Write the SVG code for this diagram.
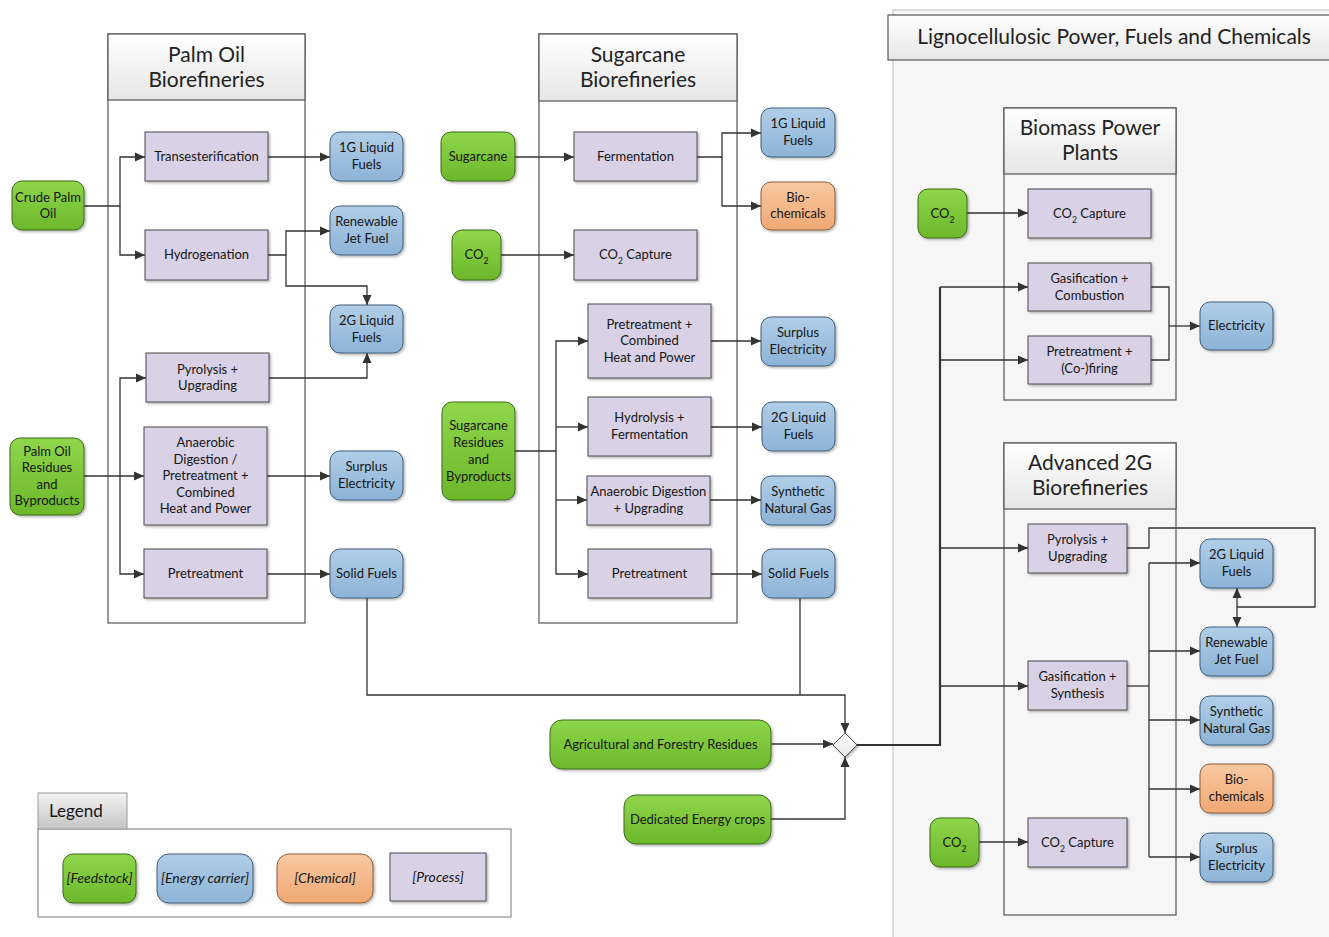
<svg xmlns="http://www.w3.org/2000/svg" width="1329" height="937" viewBox="0 0 1329 937">
<defs>
<linearGradient id="gGreen" x1="0" y1="0" x2="0" y2="1"><stop offset="0" stop-color="#8fd64a"/><stop offset="1" stop-color="#6cb82b"/></linearGradient>
<linearGradient id="gBlue" x1="0" y1="0" x2="0" y2="1"><stop offset="0" stop-color="#b0cee8"/><stop offset="1" stop-color="#8db3d6"/></linearGradient>
<linearGradient id="gOrange" x1="0" y1="0" x2="0" y2="1"><stop offset="0" stop-color="#f9c9a2"/><stop offset="1" stop-color="#f0a873"/></linearGradient>
<linearGradient id="gHdr" x1="0" y1="0" x2="0" y2="1"><stop offset="0" stop-color="#ffffff"/><stop offset="1" stop-color="#e6e6e6"/></linearGradient>
<linearGradient id="gTab" x1="0" y1="0" x2="0" y2="1"><stop offset="0" stop-color="#f4f4f4"/><stop offset="1" stop-color="#c4c4c4"/></linearGradient>
<filter id="sh" x="-10%" y="-10%" width="130%" height="130%"><feDropShadow dx="1.5" dy="1.5" stdDeviation="1.2" flood-color="#000" flood-opacity="0.3"/></filter>
<marker id="arr" viewBox="0 0 10 10" refX="10" refY="5" markerWidth="10" markerHeight="10" markerUnits="userSpaceOnUse" orient="auto-start-reverse"><path d="M0,0.5 L10,5 L0,9.5 z" fill="#333"/></marker>
<style>
.feed{fill:url(#gGreen);stroke:#3e6a1c;stroke-width:1;filter:url(#sh)}
.energy{fill:url(#gBlue);stroke:#3f5f7c;stroke-width:1;filter:url(#sh)}
.chem{fill:url(#gOrange);stroke:#8a5e3c;stroke-width:1;filter:url(#sh)}
.proc{fill:#d9d1e6;stroke:#4d4d4d;stroke-width:1;filter:url(#sh)}
.cont{fill:none;stroke:#555;stroke-width:1.2}
.hdr{fill:url(#gHdr);stroke:#555;stroke-width:1.2}
text{font-family:Lato,"Open Sans","Liberation Sans",sans-serif;font-size:13px;fill:#151515;text-anchor:middle}
.ht{font-size:21px;fill:#222}
.lg{font-style:italic;font-size:14px}
.sub{font-size:8.5px}
#connectors path{fill:none;stroke:#333;stroke-width:1.3}
#connectors path.a{marker-end:url(#arr)}
#connectors path.thick{stroke-width:2.2}
</style>
</defs>
<rect width="1329" height="937" fill="#ffffff"/>

<!-- Right panel -->
<g id="panel-ligno">
<rect x="893" y="10" width="440" height="931" fill="#f6f6f6" stroke="#c8c8c8" stroke-width="1.2"/>
<rect x="888" y="15" width="445" height="45" class="hdr"/>
<text x="1114" y="44" class="ht">Lignocellulosic Power, Fuels and Chemicals</text>
</g>

<!-- Containers -->
<g id="palm-container">
<rect x="108" y="34" width="197" height="589" class="cont"/>
<rect x="108" y="34" width="197" height="66" class="hdr"/>
<text x="206.5" y="62" class="ht">Palm Oil</text>
<text x="206.5" y="87" class="ht">Biorefineries</text>
</g>
<g id="sugar-container">
<rect x="539" y="34" width="198" height="589" class="cont"/>
<rect x="539" y="34" width="198" height="67" class="hdr"/>
<text x="638" y="62" class="ht">Sugarcane</text>
<text x="638" y="87" class="ht">Biorefineries</text>
</g>
<g id="biomass-container">
<rect x="1004" y="108" width="172" height="292" class="cont"/>
<rect x="1004" y="108" width="172" height="66" class="hdr"/>
<text x="1090" y="135" class="ht">Biomass Power</text>
<text x="1090" y="160" class="ht">Plants</text>
</g>
<g id="adv-container">
<rect x="1004" y="443" width="172" height="472" class="cont"/>
<rect x="1004" y="443" width="172" height="66" class="hdr"/>
<text x="1090" y="470" class="ht">Advanced 2G</text>
<text x="1090" y="495" class="ht">Biorefineries</text>
</g>

<!-- Connectors -->
<g id="connectors">
<path class="a" d="M84,206 H120 V157 H145"/>
<path class="a" d="M120,206 V255 H145"/>
<path class="a" d="M268,157 H330"/>
<path class="a" d="M268,255 H286 V231 H330"/>
<path class="a" d="M286,255 V286 H367 V305"/>
<path class="a" d="M269,378 H367 V353"/>
<path class="a" d="M84,476 H144"/>
<path class="a" d="M120,476 V378 H146"/>
<path class="a" d="M120,476 V574 H144"/>
<path class="a" d="M267,476 H330"/>
<path class="a" d="M267,574 H330"/>
<path class="a" d="M367,598 V695 H845 V733"/>

<path class="a" d="M515,157 H574"/>
<path class="a" d="M501,255 H574"/>
<path class="a" d="M697,157 H722 V133 H761"/>
<path class="a" d="M722,157 V206 H761"/>
<path class="a" d="M515,451 H556 V341 H588"/>
<path class="a" d="M556,451 V574 H588"/>
<path class="a" d="M556,427 H588"/>
<path class="a" d="M556,500 H587"/>
<path class="a" d="M711,341 H761"/>
<path class="a" d="M711,427 H762"/>
<path class="a" d="M710,500 H761"/>
<path class="a" d="M711,574 H762"/>
<path d="M800,598 V695"/>

<path class="a" d="M771,744 H833"/>
<path class="a" d="M771,819 H845 V757"/>
<path class="thick" d="M857,745 H940 V287"/>
<path class="a" d="M940,287 H1028"/>
<path class="a" d="M940,360 H1028"/>
<path class="a" d="M940,548 H1028"/>
<path class="a" d="M940,686 H1028"/>

<path class="a" d="M967,213 H1028"/>
<path d="M1151,287 H1169 V360 H1151"/>
<path class="a" d="M1169,326 H1200"/>
<path d="M1127,548 H1149 V528 H1315 V607 H1237"/>
<path class="a" d="M1237,588 V627" marker-start="url(#arr)"/>
<path d="M1127,686 H1149"/>
<path d="M1149,563 V857"/>
<path class="a" d="M1149,563 H1200"/>
<path class="a" d="M1149,651 H1200"/>
<path class="a" d="M1149,720 H1200"/>
<path class="a" d="M1149,789 H1200"/>
<path class="a" d="M1149,857 H1200"/>
<path class="a" d="M979,842 H1028"/>
</g>

<!-- Palm oil nodes -->
<g id="crude-palm-oil"><rect x="12" y="181" width="72" height="49" rx="10" class="feed"/><text x="48" y="202">Crude Palm</text><text x="48" y="218">Oil</text></g>
<g id="palm-residues"><rect x="10" y="438" width="74" height="77" rx="10" class="feed"/><text x="47" y="456">Palm Oil</text><text x="47" y="472">Residues</text><text x="47" y="489">and</text><text x="47" y="505">Byproducts</text></g>
<g id="transesterification"><rect x="145" y="132" width="123" height="49" class="proc"/><text x="206.5" y="161">Transesterification</text></g>
<g id="hydrogenation"><rect x="145" y="230" width="123" height="50" class="proc"/><text x="206.5" y="259">Hydrogenation</text></g>
<g id="palm-pyrolysis"><rect x="146" y="353" width="123" height="49" class="proc"/><text x="207.5" y="374">Pyrolysis +</text><text x="207.5" y="390">Upgrading</text></g>
<g id="palm-anaerobic"><rect x="144" y="427" width="123" height="98" class="proc"/><text x="205.5" y="447">Anaerobic</text><text x="205.5" y="463.5">Digestion /</text><text x="205.5" y="480">Pretreatment  +</text><text x="205.5" y="496.5">Combined</text><text x="205.5" y="513">Heat and Power</text></g>
<g id="palm-pretreatment"><rect x="144" y="549" width="123" height="49" class="proc"/><text x="205.5" y="578">Pretreatment</text></g>
<g id="palm-1g"><rect x="330" y="132" width="73" height="49" rx="10" class="energy"/><text x="366.5" y="152">1G Liquid</text><text x="366.5" y="169">Fuels</text></g>
<g id="palm-jet"><rect x="330" y="206" width="73" height="49" rx="10" class="energy"/><text x="366.5" y="226">Renewable</text><text x="366.5" y="243">Jet Fuel</text></g>
<g id="palm-2g"><rect x="330" y="305" width="73" height="48" rx="10" class="energy"/><text x="366.5" y="325">2G Liquid</text><text x="366.5" y="341.5">Fuels</text></g>
<g id="palm-surplus"><rect x="330" y="451" width="73" height="49" rx="10" class="energy"/><text x="366.5" y="471">Surplus</text><text x="366.5" y="488">Electricity</text></g>
<g id="palm-solid"><rect x="330" y="549" width="73" height="49" rx="10" class="energy"/><text x="366.5" y="578">Solid Fuels</text></g>

<!-- Sugarcane nodes -->
<g id="sugarcane"><rect x="441" y="132" width="74" height="49" rx="10" class="feed"/><text x="478" y="161">Sugarcane</text></g>
<g id="sugar-co2"><rect x="452" y="230" width="49" height="50" rx="10" class="feed"/><text x="476.5" y="259">CO<tspan class="sub" baseline-shift="sub">2</tspan></text></g>
<g id="sugar-residues"><rect x="442" y="402" width="73" height="98" rx="10" class="feed"/><text x="478.5" y="430">Sugarcane</text><text x="478.5" y="447">Residues</text><text x="478.5" y="464">and</text><text x="478.5" y="481">Byproducts</text></g>
<g id="fermentation"><rect x="574" y="132" width="123" height="49" class="proc"/><text x="635.5" y="161">Fermentation</text></g>
<g id="sugar-co2-capture"><rect x="574" y="230" width="123" height="50" class="proc"/><text x="635.5" y="259">CO<tspan class="sub" baseline-shift="sub">2</tspan> Capture</text></g>
<g id="sugar-chp"><rect x="588" y="304" width="123" height="74" class="proc"/><text x="649.5" y="328.5">Pretreatment +</text><text x="649.5" y="345">Combined</text><text x="649.5" y="361.5">Heat and Power</text></g>
<g id="sugar-hydrolysis"><rect x="588" y="397" width="123" height="59" class="proc"/><text x="649.5" y="422">Hydrolysis +</text><text x="649.5" y="439">Fermentation</text></g>
<g id="sugar-anaerobic"><rect x="587" y="476" width="123" height="49" class="proc"/><text x="648.5" y="496">Anaerobic Digestion</text><text x="648.5" y="513">+ Upgrading</text></g>
<g id="sugar-pretreatment"><rect x="588" y="549" width="123" height="49" class="proc"/><text x="649.5" y="578">Pretreatment</text></g>
<g id="sugar-1g"><rect x="761" y="108" width="74" height="49" rx="10" class="energy"/><text x="798" y="128">1G Liquid</text><text x="798" y="145">Fuels</text></g>
<g id="sugar-biochem"><rect x="761" y="182" width="74" height="48" rx="10" class="chem"/><text x="798" y="202">Bio-</text><text x="798" y="218">chemicals</text></g>
<g id="sugar-surplus"><rect x="761" y="317" width="74" height="49" rx="10" class="energy"/><text x="798" y="337">Surplus</text><text x="798" y="354">Electricity</text></g>
<g id="sugar-2g"><rect x="762" y="402" width="73" height="49" rx="10" class="energy"/><text x="798.5" y="422">2G Liquid</text><text x="798.5" y="439">Fuels</text></g>
<g id="sugar-sng"><rect x="761" y="476" width="74" height="49" rx="10" class="energy"/><text x="798" y="496">Synthetic</text><text x="798" y="513">Natural Gas</text></g>
<g id="sugar-solid"><rect x="762" y="549" width="73" height="49" rx="10" class="energy"/><text x="798.5" y="578">Solid Fuels</text></g>

<!-- Bottom feedstocks -->
<g id="agri-residues"><rect x="550" y="720" width="221" height="49" rx="12" class="feed"/><text x="660.5" y="749">Agricultural and Forestry Residues</text></g>
<g id="energy-crops"><rect x="624" y="795" width="147" height="49" rx="12" class="feed"/><text x="697.5" y="824">Dedicated Energy crops</text></g>
<g id="merge"><polygon points="845,733 857,745 845,757 833,745" fill="url(#gHdr)" stroke="#555" stroke-width="1" filter="url(#sh)"/></g>

<!-- Biomass power plants nodes -->
<g id="bp-co2"><rect x="918" y="189" width="49" height="49" rx="10" class="feed"/><text x="942.5" y="218">CO<tspan class="sub" baseline-shift="sub">2</tspan></text></g>
<g id="bp-co2-capture"><rect x="1028" y="189" width="123" height="49" class="proc"/><text x="1089.5" y="218">CO<tspan class="sub" baseline-shift="sub">2</tspan> Capture</text></g>
<g id="bp-gasif"><rect x="1028" y="263" width="123" height="48" class="proc"/><text x="1089.5" y="283">Gasification +</text><text x="1089.5" y="299.5">Combustion</text></g>
<g id="bp-cofiring"><rect x="1028" y="336" width="123" height="48" class="proc"/><text x="1089.5" y="356">Pretreatment +</text><text x="1089.5" y="372.5">(Co-)firing</text></g>
<g id="bp-electricity"><rect x="1200" y="302" width="73" height="48" rx="10" class="energy"/><text x="1236.5" y="330">Electricity</text></g>

<!-- Advanced 2G nodes -->
<g id="adv-pyrolysis"><rect x="1028" y="524" width="99" height="49" class="proc"/><text x="1077.5" y="544">Pyrolysis +</text><text x="1077.5" y="561">Upgrading</text></g>
<g id="adv-gasif"><rect x="1028" y="661" width="99" height="49" class="proc"/><text x="1077.5" y="681">Gasification +</text><text x="1077.5" y="698">Synthesis</text></g>
<g id="adv-co2-capture"><rect x="1028" y="818" width="99" height="49" class="proc"/><text x="1077.5" y="847">CO<tspan class="sub" baseline-shift="sub">2</tspan> Capture</text></g>
<g id="adv-co2"><rect x="930" y="818" width="49" height="49" rx="10" class="feed"/><text x="954.5" y="847">CO<tspan class="sub" baseline-shift="sub">2</tspan></text></g>
<g id="adv-2g"><rect x="1200" y="539" width="73" height="49" rx="10" class="energy"/><text x="1236.5" y="559">2G Liquid</text><text x="1236.5" y="576">Fuels</text></g>
<g id="adv-jet"><rect x="1200" y="627" width="73" height="49" rx="10" class="energy"/><text x="1236.5" y="647">Renewable</text><text x="1236.5" y="664">Jet Fuel</text></g>
<g id="adv-sng"><rect x="1200" y="696" width="73" height="49" rx="10" class="energy"/><text x="1236.5" y="716">Synthetic</text><text x="1236.5" y="733">Natural Gas</text></g>
<g id="adv-biochem"><rect x="1200" y="764" width="73" height="49" rx="10" class="chem"/><text x="1236.5" y="784">Bio-</text><text x="1236.5" y="801">chemicals</text></g>
<g id="adv-surplus"><rect x="1200" y="833" width="73" height="49" rx="10" class="energy"/><text x="1236.5" y="853">Surplus</text><text x="1236.5" y="870">Electricity</text></g>

<!-- Legend -->
<g id="legend">
<rect x="38" y="829" width="473" height="88" fill="#ffffff" stroke="#8c8c8c" stroke-width="1.2"/>
<rect x="38" y="793" width="89" height="36" fill="url(#gTab)" stroke="#9a9a9a" stroke-width="1"/>
<text x="49" y="817" style="text-anchor:start;font-size:17px">Legend</text>
<rect x="63" y="854" width="73" height="49" rx="10" class="feed"/><text x="99.5" y="883" class="lg">[Feedstock]</text>
<rect x="157" y="854" width="96" height="49" rx="12" class="energy"/><text x="205" y="883" class="lg">[Energy carrier]</text>
<rect x="277" y="854" width="96" height="49" rx="12" class="chem"/><text x="325" y="883" class="lg">[Chemical]</text>
<rect x="390" y="853" width="96" height="48" class="proc"/><text x="438" y="882" class="lg">[Process]</text>
</g>
</svg>
